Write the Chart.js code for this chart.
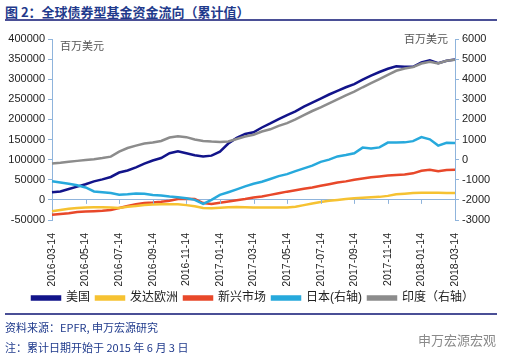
<!DOCTYPE html>
<html>
<head>
<meta charset="utf-8">
<script src="https://cdn.jsdelivr.net/npm/chart.js@4/dist/chart.umd.min.js"></script>
<style>
  body { margin: 0; width: 506px; height: 361px; background: #fff; position: relative; overflow: hidden;
         font-family: "Liberation Sans", "Noto Sans CJK SC", sans-serif; }
  .title { position: absolute; left: 5px; top: 2px; font-size: 13px; font-weight: bold; color: #1f3a8c;
           font-family: "Noto Sans CJK SC", sans-serif; }
  .rule { position: absolute; left: 5px; width: 492px; height: 2px; background: #4a4f96; }
  .unit { position: absolute; font-size: 11px; color: #555; font-family: "Noto Sans CJK SC", serif; }
  .note { position: absolute; left: 5px; font-size: 11px; color: #1f3a8c; font-family: "Noto Sans CJK SC", sans-serif; }
  .mark { position: absolute; left: 418px; top: 330px; font-size: 13px; color: #8a8a8a; font-family: "Noto Sans CJK SC", sans-serif; }
  #wrap { position: absolute; left: 0; top: 22px; width: 506px; height: 292px; }
</style>
</head>
<body>
<div class="title">图 2：全球债券型基金资金流向（累计值）</div>
<div class="rule" style="top:19px"></div>
<div id="wrap"><canvas id="flow-chart" width="506" height="292"></canvas></div>
<div class="unit" style="left:60px; top:37px">百万美元</div>
<div class="unit" style="left:404px; top:30px">百万美元</div>
<div class="rule" style="top:313px"></div>
<div class="note" style="top:319px">资料来源：EPFR, 申万宏源研究</div>
<div class="note" style="top:339px">注：累计日期开始于 2015 年 6 月 3 日</div>
<div class="mark">申万宏源宏观</div>
<script>
// half-month sampling points, every 4th one is labelled
const dates = [
  "2016-03-14", "2016-03-29", "2016-04-14", "2016-04-29", "2016-05-14", "2016-05-29",
  "2016-06-14", "2016-06-29", "2016-07-14", "2016-07-29", "2016-08-14", "2016-08-29",
  "2016-09-14", "2016-09-29", "2016-10-14", "2016-10-29", "2016-11-14", "2016-11-29",
  "2016-12-14", "2016-12-29", "2017-01-14", "2017-01-29", "2017-02-14", "2017-02-28",
  "2017-03-14", "2017-03-29", "2017-04-14", "2017-04-29", "2017-05-14", "2017-05-29",
  "2017-06-14", "2017-06-29", "2017-07-14", "2017-07-29", "2017-08-14", "2017-08-29",
  "2017-09-14", "2017-09-29", "2017-10-14", "2017-10-29", "2017-11-14", "2017-11-29",
  "2017-12-14", "2017-12-29", "2018-01-14", "2018-01-29", "2018-02-14", "2018-02-28",
  "2018-03-14",
];

// left axis (百万美元)
const usa = [
  19000, 21000, 27000, 33000, 39000, 46000, 51000, 57000, 68000, 73000,
  81000, 90000, 98000, 104000, 116000, 121000, 116000, 111000, 108000, 110000,
  120000, 140000, 154000, 164000, 168000, 180000, 190000, 201000, 211000, 220000,
  232000, 242000, 252000, 262000, 271000, 280000, 288000, 299000, 309000, 318000,
  326000, 332000, 331000, 331000, 342000, 347000, 340000, 346000, 349000,
];
const devEurope = [
  -28000, -25000, -22000, -20000, -19000, -18000, -18000, -19000, -20000, -17000,
  -15000, -13000, -11500, -11000, -11000, -11000, -13000, -16000, -20000, -21000,
  -19500, -18000, -17500, -18000, -19000, -19000, -19000, -19000, -19000, -17000,
  -13000, -9000, -5000, -2000, 0, 2000, 4000, 5500, 6500, 7500,
  10000, 14000, 15500, 17000, 17500, 18000, 18000, 17000, 17000,
];
const emerging = [
  -37000, -35000, -33000, -30000, -29000, -28000, -27000, -25000, -20000, -15000,
  -11000, -8000, -6500, -4500, -2000, 2000, 3000, 2000, -8000, -10000,
  -7000, -4000, -1000, 2000, 6000, 8500, 12500, 16500, 20500, 24000,
  27500, 31000, 35000, 39000, 43000, 46000, 50000, 53000, 56000, 58300,
  60500, 62000, 63000, 66000, 72500, 75000, 71000, 74500, 75000,
];
// right axis (百万美元)
const japan = [
  -1075, -1130, -1200, -1270, -1380, -1580, -1620, -1660, -1740, -1720,
  -1680, -1700, -1760, -1780, -1830, -1870, -1920, -2000, -2200, -2000,
  -1750, -1620, -1480, -1330, -1200, -1100, -960, -820, -720, -570,
  -430, -300, -110, 0, 160, 230, 320, 600, 560, 610,
  850, 850, 860, 920, 1120, 1010, 700, 840, 830,
];
const india = [
  -190, -150, -100, -60, -20, 20, 80, 150, 400, 580,
  700, 800, 850, 930, 1100, 1160, 1120, 1000, 930, 900,
  880, 900, 1030, 1150, 1240, 1400, 1510, 1680, 1820, 2000,
  2220, 2420, 2600, 2800, 3000, 3200, 3380, 3600, 3800, 4010,
  4220, 4420, 4530, 4600, 4780, 4870, 4780, 4920, 4970,
];

const axisBlue = "#8fb4dc";
const tickFont = { family: "'Liberation Sans', sans-serif", size: 11 };
const plain = (v) => String(v); // no thousands separators

function line(label, data, color, axis, order) {
  return {
    label: label,
    data: data,
    yAxisID: axis,
    borderColor: color,
    backgroundColor: color,
    borderWidth: 2.5,
    pointRadius: 0,
    tension: 0,
    order: order,
  };
}

// little tick marks on the zero line under every labelled date
const zeroTicks = {
  id: "zeroTicks",
  afterDatasetsDraw(chart) {
    const x = chart.scales.x;
    const y0 = chart.scales.y.getPixelForValue(0);
    const c = chart.ctx;
    c.save();
    c.strokeStyle = axisBlue;
    c.lineWidth = 1;
    dates.forEach((d, i) => {
      if (i % 4 !== 0) return;
      const px = Math.round(x.getPixelForValue(i)) + 0.5;
      c.beginPath();
      c.moveTo(px, y0);
      c.lineTo(px, y0 + 4);
      c.stroke();
    });
    c.restore();
  },
};

const ctx = document.getElementById("flow-chart").getContext("2d");

new Chart(ctx, {
  type: "line",
  data: {
    labels: dates,
    datasets: [
      line("美国", usa, "#12148a", "y", 3),
      line("发达欧洲", devEurope, "#f6c232", "y", 3),
      line("新兴市场", emerging, "#e8482a", "y", 3),
      line("日本(右轴)", japan, "#27a9dc", "y1", 1),
      line("印度（右轴）", india, "#8c8c8c", "y1", 1),
    ],
  },
  options: {
    responsive: false,
    animation: false,
    layout: { padding: { top: 17, left: 0, right: 0, bottom: 0 } },
    plugins: {
      legend: {
        position: "bottom",
        labels: {
          boxWidth: 28,
          boxHeight: 3,
          padding: 6,
          color: "#222",
          font: { family: "'Liberation Sans', 'Noto Sans CJK SC', sans-serif", size: 12 },
          sort: (a, b) => a.datasetIndex - b.datasetIndex,
        },
      },
      tooltip: { enabled: false },
    },
    scales: {
      x: {
        afterFit: (scale) => { scale.height = 66; },
        grid: { display: false },
        border: { display: false },
        ticks: {
          autoSkip: false,
          minRotation: 90,
          maxRotation: 90,
          padding: 5,
          color: "#222",
          font: { family: "'Liberation Sans', sans-serif", size: 10.5 },
          callback: function (value, index) {
            return index % 4 === 0 ? dates[index] : null;
          },
        },
      },
      y: {
        position: "left",
        min: -50000,
        max: 400000,
        afterFit: (scale) => { scale.width = 52; },
        border: { color: axisBlue },
        grid: {
          color: (c) => (c.tick && c.tick.value === 0 ? axisBlue : "rgba(0,0,0,0)"),
          tickColor: axisBlue,
          tickLength: 4,
        },
        ticks: { stepSize: 50000, autoSkip: false, color: "#222", font: tickFont, padding: 3, callback: plain },
      },
      y1: {
        position: "right",
        min: -3000,
        max: 6000,
        afterFit: (scale) => { scale.width = 51; },
        border: { color: axisBlue },
        grid: { drawOnChartArea: false, tickColor: axisBlue, tickLength: 4 },
        ticks: { stepSize: 1000, autoSkip: false, color: "#222", font: tickFont, padding: 3, callback: plain },
      },
    },
  },
  plugins: [zeroTicks],
});
</script>
</body>
</html>
